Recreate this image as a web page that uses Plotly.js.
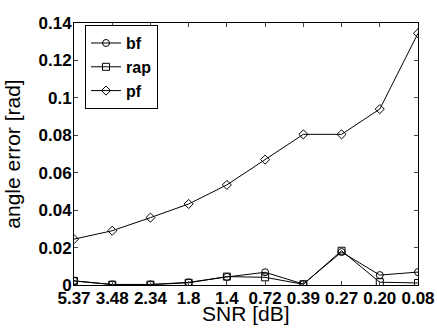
<!DOCTYPE html>
<html><head><meta charset="utf-8">
<script src="https://cdn.plot.ly/plotly-3.0.1.min.js"></script>
<style>html,body{margin:0;padding:0;background:#fff}#chart{width:437px;height:329px}</style>
</head><body><div id="chart"></div>
<script>
const snrLabels = ["5.37","3.48","2.34","1.8","1.4","0.72","0.39","0.27","0.20","0.08"];
const bf  = [0.0022,0.0003,0.0003,0.0014,0.0043,0.0068,0.0005,0.0176,0.0053,0.0069];
const rap = [0.0022,0.0002,0.0002,0.0012,0.0045,0.0041,0.0004,0.0183,0.0015,0.0011];
const pf  = [0.0245,0.029,0.036,0.0433,0.0535,0.067,0.0805,0.0805,0.094,0.1345];
const yTicks = [0,0.02,0.04,0.06,0.08,0.1,0.12,0.14];
const xTitle = 'SNR [dB]';
const yTitle = 'angle error [rad]';

const FONT = 'Liberation Sans, Arial, sans-serif';
const idx = snrLabels.map((_, i) => i);
function tr(name, y, symbol) {
  return {x: idx, y: y, name: name, type: 'scatter', mode: 'lines+markers',
    line: {color: '#000', width: 1},
    marker: {symbol: symbol, size: 7, color: '#000', line: {color: '#000', width: 1}}};
}
const data = [tr('bf', bf, 'circle-open'), tr('rap', rap, 'square-open'), tr('pf', pf, 'diamond-open')];
const layout = {
  width: 437, height: 329,
  margin: {l: 74, r: 19, t: 23, b: 44},
  paper_bgcolor: '#fff', plot_bgcolor: '#fff',
  font: {family: FONT, color: '#000'},
  showlegend: true,
  legend: {x: 0.032, y: 0.992, xanchor: 'left', yanchor: 'top', bgcolor: '#fff', bordercolor: '#000', borderwidth: 1,
    font: {size: 16, family: FONT, weight: 'bold'}, tracegroupgap: 0},
  xaxis: {range: [0, 9], tickvals: idx, ticktext: snrLabels.map(s => '<b>' + s + '</b>'), ticks: 'inside', ticklen: 4, mirror: 'ticks',
    showline: true, linecolor: '#000', linewidth: 1, showgrid: false, zeroline: false,
    tickfont: {size: 17, family: FONT}, ticklabelstandoff: -2},
  yaxis: {range: [0, 0.14], tickvals: yTicks, ticktext: yTicks.map(v => '<b>' + String(v) + '</b>'), ticks: 'inside', ticklen: 4, mirror: 'ticks',
    showline: true, linecolor: '#000', linewidth: 1, showgrid: false, zeroline: false,
    tickfont: {size: 17, family: FONT}, ticklabelstandoff: -2,
    title: {text: yTitle, font: {size: 21, family: FONT}, standoff: 12}},
  annotations: [{text: xTitle, xref: 'paper', yref: 'paper', x: 0.5, y: -0.11, xanchor: 'center', yanchor: 'middle',
    showarrow: false, font: {size: 21, family: FONT, color: '#000'}}]
};
Plotly.newPlot('chart', data, layout, {displayModeBar: false, staticPlot: true});
</script></body></html>
